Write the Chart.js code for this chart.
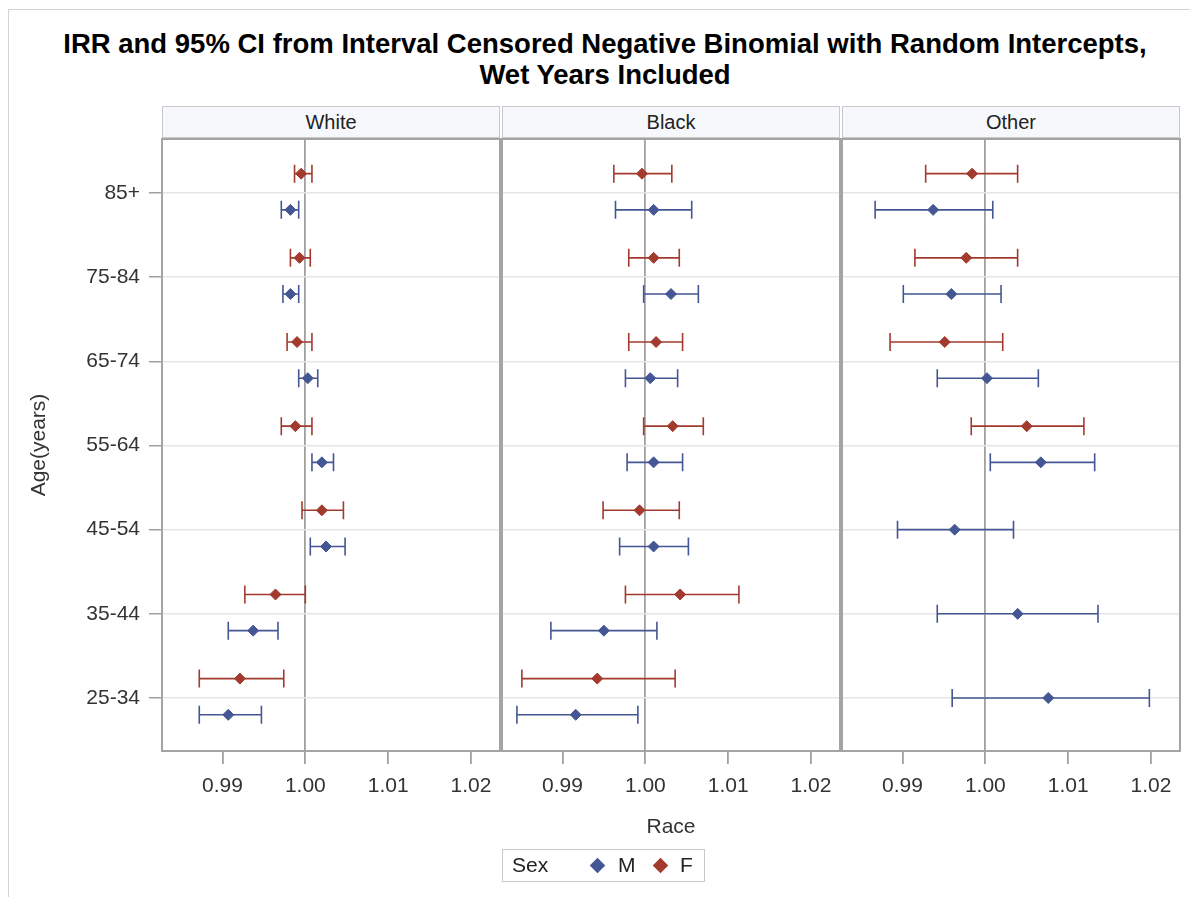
<!DOCTYPE html>
<html>
<head>
<title>IRR and 95% CI</title>
<script src="https://cdn.jsdelivr.net/npm/chart.js"></script>
<style>
  body { margin: 0; background: #fff; font-family: "Liberation Sans", Arial, sans-serif; }
  #wrap { position: relative; width: 1190px; height: 897px; overflow: hidden; }
  #frame { position: absolute; left: 8px; top: 9px; width: 1300px; height: 1000px;
           border-left: 1px solid #d4d4d4; border-top: 1px solid #d4d4d4; }
  .title { position: absolute; left: 10px; width: 1190px; text-align: center;
           font-weight: bold; font-size: 27.5px; color: #000; }
  .head { position: absolute; top: 106px; height: 30px; width: 336px; border: 1px solid #c9c9c9;
          background: #f6f8fc; text-align: center; font-size: 20px; line-height: 30px; color: #222; }
  canvas { position: absolute; top: 129px; }
  #legend { position: absolute; left: 502px; top: 849px; width: 201px; height: 31px;
            border: 1px solid #c8c8c8; font-size: 21px; color: #222; }
  #legend span { position: absolute; top: 3px; }
  .dia { position: absolute; top: 10px; width: 11px; height: 11px; transform: rotate(45deg); }
</style>
</head>
<body>
<div id="wrap">
  <div id="frame"></div>
  <div class="title" style="top:28px">IRR and 95% CI from Interval Censored Negative Binomial with Random Intercepts,</div>
  <div class="title" style="top:59px">Wet Years Included</div>

  <div class="head" style="left:162px">White</div>
  <div class="head" style="left:502px">Black</div>
  <div class="head" style="left:842px">Other</div>

  <canvas id="white" width="510" height="721" style="left:0px"></canvas>
  <canvas id="black" width="358" height="721" style="left:492px"></canvas>
  <canvas id="other" width="358" height="721" style="left:832px"></canvas>

  <div id="legend">
    <span style="left:9px">Sex</span>
    <div class="dia" style="left:89px;background:#445694"></div>
    <span style="left:115px">M</span>
    <div class="dia" style="left:152px;background:#a23a2e"></div>
    <span style="left:177px">F</span>
  </div>
</div>

<script>
const ageCats = ['25-34', '35-44', '45-54', '55-64', '65-74', '75-84', '85+'];
const xTicks = [0.99, 1.00, 1.01, 1.02];

// White
const whiteM   = [0.9907, 0.9937, 1.0025, 1.0020, 1.0003, 0.9982, 0.9982];
const whiteMLo = [0.9872, 0.9907, 1.0006, 1.0008, 0.9992, 0.9973, 0.9971];
const whiteMHi = [0.9947, 0.9967, 1.0048, 1.0034, 1.0015, 0.9992, 0.9992];
const whiteF   = [0.9921, 0.9964, 1.0020, 0.9988, 0.9990, 0.9993, 0.9995];
const whiteFLo = [0.9872, 0.9927, 0.9996, 0.9971, 0.9978, 0.9982, 0.9987];
const whiteFHi = [0.9974, 1.0000, 1.0046, 1.0008, 1.0008, 1.0006, 1.0008];

// Black
const blackM   = [0.9916, 0.9950, 1.0010, 1.0010, 1.0006, 1.0031, 1.0010];
const blackMLo = [0.9845, 0.9886, 0.9969, 0.9978, 0.9976, 0.9998, 0.9964];
const blackMHi = [0.9991, 1.0014, 1.0052, 1.0045, 1.0039, 1.0064, 1.0056];
const blackF   = [0.9942, 1.0042, 0.9993, 1.0033, 1.0013, 1.0010, 0.9996];
const blackFLo = [0.9851, 0.9976, 0.9949, 0.9998, 0.9980, 0.9980, 0.9962];
const blackFHi = [1.0036, 1.0113, 1.0041, 1.0070, 1.0045, 1.0041, 1.0032];

// Other
const otherM   = [1.0076, 1.0039, 0.9963, 1.0067, 1.0002, 0.9959, 0.9937];
const otherMLo = [0.9960, 0.9942, 0.9894, 1.0006, 0.9942, 0.9901, 0.9867];
const otherMHi = [1.0198, 1.0136, 1.0034, 1.0132, 1.0064, 1.0019, 1.0009];
const otherF   = [null, null, null, 1.0050, 0.9951, 0.9977, 0.9984];
const otherFLo = [null, null, null, 0.9983, 0.9885, 0.9915, 0.9928];
const otherFHi = [null, null, null, 1.0119, 1.0021, 1.0039, 1.0039];

const blue = '#445694';
const red = '#a23a2e';
const FONT = '"Liberation Sans", Arial, sans-serif';

const errorBars = {
  id: 'errorBars',
  beforeDatasetsDraw(chart) {
    const ctx = chart.ctx, xs = chart.scales.x, ys = chart.scales.y;
    ctx.save();
    ctx.lineWidth = 1.6;
    chart.data.datasets.forEach(ds => {
      ctx.strokeStyle = ds.borderColor;
      ds.data.forEach(p => {
        const y = ys.getPixelForValue(p.y);
        const a = xs.getPixelForValue(p.lo), b = xs.getPixelForValue(p.hi);
        ctx.beginPath();
        ctx.moveTo(a, y); ctx.lineTo(b, y);
        ctx.moveTo(a, y - 9); ctx.lineTo(a, y + 9);
        ctx.moveTo(b, y - 9); ctx.lineTo(b, y + 9);
        ctx.stroke();
      });
    });
    ctx.restore();
  }
};

const panelBox = {
  id: 'panelBox',
  afterDraw(chart) {
    const {left, top, right, bottom} = chart.chartArea;
    const ctx = chart.ctx;
    ctx.save();
    ctx.strokeStyle = '#a4a4a4';
    ctx.lineWidth = 2;
    ctx.strokeRect(left, top, right - left, bottom - top);
    ctx.restore();
  }
};

function points(est, lo, hi, off, other) {
  const out = [];
  est.forEach((v, i) => {
    if (v == null) return;
    const o = (other && other[i] == null) ? 0 : off;
    out.push({x: v, y: i + o, lo: lo[i], hi: hi[i]});
  });
  return out;
}

function noPad(s) {
  s.paddingTop = 0; s.paddingBottom = 0; s.paddingLeft = 0; s.paddingRight = 0;
}

function makePanel(id, m, mLo, mHi, f, fLo, fHi, first, middle) {
  new Chart(document.getElementById(id), {
    type: 'scatter',
    data: {
      datasets: [
        { label: 'M', data: points(m, mLo, mHi, -0.2, f), borderColor: blue, backgroundColor: blue,
          pointStyle: 'rectRot', pointRadius: 5.5, pointBorderWidth: 1 },
        { label: 'F', data: points(f, fLo, fHi, 0.23), borderColor: red, backgroundColor: red,
          pointStyle: 'rectRot', pointRadius: 5.5, pointBorderWidth: 1 }
      ]
    },
    options: {
      responsive: false,
      animation: false,
      layout: { padding: { left: first ? 23 : 10, right: 10, top: 10, bottom: 0 } },
      plugins: { legend: { display: false }, tooltip: { enabled: false } },
      scales: {
        x: {
          type: 'linear', min: 0.9827, max: 1.0235,
          afterBuildTicks: s => { s.ticks = xTicks.map(v => ({value: v})); },
          afterFit: s => { s.height = 99; noPad(s); },
          ticks: { callback: v => v.toFixed(2), autoSkip: false, maxRotation: 0,
                   color: '#333', padding: 10, font: { family: FONT, size: 21 } },
          grid: { color: c => (c.tick && c.tick.value === 1) ? '#a0a0a0' : 'rgba(0,0,0,0)',
                  lineWidth: 1.8, tickColor: '#a0a0a0', tickLength: 13 },
          border: { display: false },
          title: { display: middle, text: 'Race', color: '#333', padding: { top: 0, bottom: 10 },
                   font: { family: FONT, size: 21 } }
        },
        y: {
          type: 'linear', min: -0.63, max: 6.642,
          afterBuildTicks: s => { s.ticks = ageCats.map((c, i) => ({value: i})); },
          afterFit: s => { s.width = first ? 139 : 0; noPad(s); },
          ticks: { display: first, callback: v => ageCats[v], color: '#333', padding: 9,
                   font: { family: FONT, size: 21 } },
          grid: { color: '#e6e6e6', lineWidth: 1.5, tickColor: '#a0a0a0', tickLength: 13, drawTicks: first },
          border: { display: false },
          title: { display: first, text: 'Age(years)', color: '#333', font: { family: FONT, size: 21 } }
        }
      }
    },
    plugins: [errorBars, panelBox]
  });
}

makePanel('white', whiteM, whiteMLo, whiteMHi, whiteF, whiteFLo, whiteFHi, true, false);
makePanel('black', blackM, blackMLo, blackMHi, blackF, blackFLo, blackFHi, false, true);
makePanel('other', otherM, otherMLo, otherMHi, otherF, otherFLo, otherFHi, false, false);
</script>
</body>
</html>
